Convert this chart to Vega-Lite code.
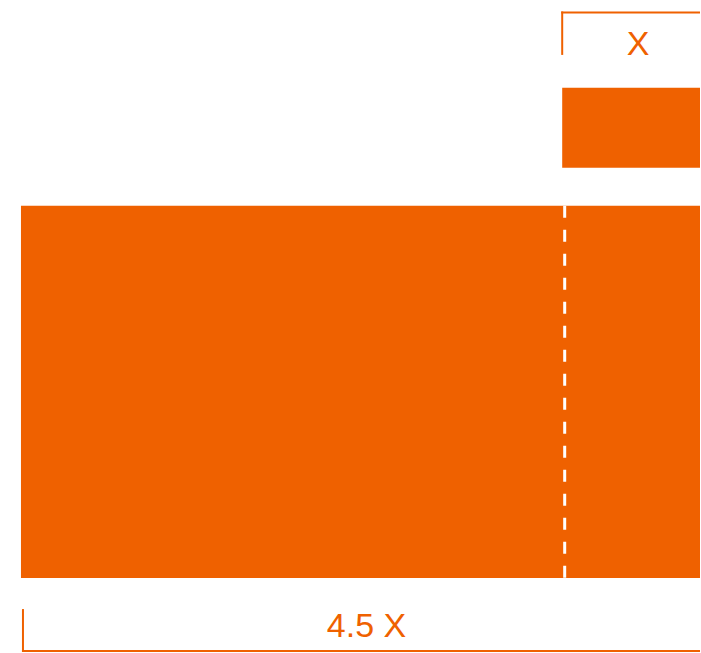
{
  "$schema": "https://vega.github.io/schema/vega-lite/v6.json",
  "width": 701,
  "height": 653,
  "autosize": {"type": "fit", "contains": "padding"},
  "padding": 0,
  "background": "white",
  "config": {"view": {"stroke": null}},
  "datasets": {
    "blocks": [
      {"name": "total", "x": 21, "x2": 701, "y": 206, "y2": 579},
      {"name": "unit", "x": 563, "x2": 701, "y": 88, "y2": 168}
    ],
    "divider": [
      {"x": 565.5, "y": 206, "y2": 579}
    ],
    "brackets": [
      {"part": "top-h", "x": 562, "x2": 701, "y": 12.5, "y2": 12.5},
      {"part": "top-v", "x": 563, "x2": 563, "y": 11.5, "y2": 55},
      {"part": "bottom-v", "x": 23, "x2": 23, "y": 610, "y2": 653},
      {"part": "bottom-h", "x": 22, "x2": 701, "y": 652, "y2": 652}
    ],
    "labels": [
      {"label": "X", "x": 639, "y": 55},
      {"label": "4.5 X", "x": 367, "y": 638}
    ]
  },
  "layer": [
    {
      "data": {"name": "blocks"},
      "mark": {"type": "rect", "color": "#EF6100"},
      "encoding": {
        "x": {"field": "x", "type": "quantitative", "scale": {"domain": [0, 701]}, "axis": null},
        "x2": {"field": "x2"},
        "y": {"field": "y", "type": "quantitative", "scale": {"domain": [0, 653], "reverse": true}, "axis": null},
        "y2": {"field": "y2"}
      }
    },
    {
      "data": {"name": "divider"},
      "mark": {"type": "rule", "color": "white", "strokeWidth": 3, "strokeDash": [12, 12]},
      "encoding": {
        "x": {"field": "x", "type": "quantitative", "scale": {"domain": [0, 701]}, "axis": null},
        "y": {"field": "y", "type": "quantitative", "scale": {"domain": [0, 653], "reverse": true}, "axis": null},
        "y2": {"field": "y2"}
      }
    },
    {
      "data": {"name": "brackets"},
      "mark": {"type": "rule", "color": "#EF6100", "strokeWidth": 2},
      "encoding": {
        "x": {"field": "x", "type": "quantitative", "scale": {"domain": [0, 701]}, "axis": null},
        "x2": {"field": "x2"},
        "y": {"field": "y", "type": "quantitative", "scale": {"domain": [0, 653], "reverse": true}, "axis": null},
        "y2": {"field": "y2"}
      }
    },
    {
      "data": {"name": "labels"},
      "mark": {"type": "text", "color": "#EF6100", "font": "Liberation Sans", "fontSize": 34, "align": "center", "baseline": "alphabetic"},
      "encoding": {
        "x": {"field": "x", "type": "quantitative", "scale": {"domain": [0, 701]}, "axis": null},
        "y": {"field": "y", "type": "quantitative", "scale": {"domain": [0, 653], "reverse": true}, "axis": null},
        "text": {"field": "label"}
      }
    }
  ]
}
